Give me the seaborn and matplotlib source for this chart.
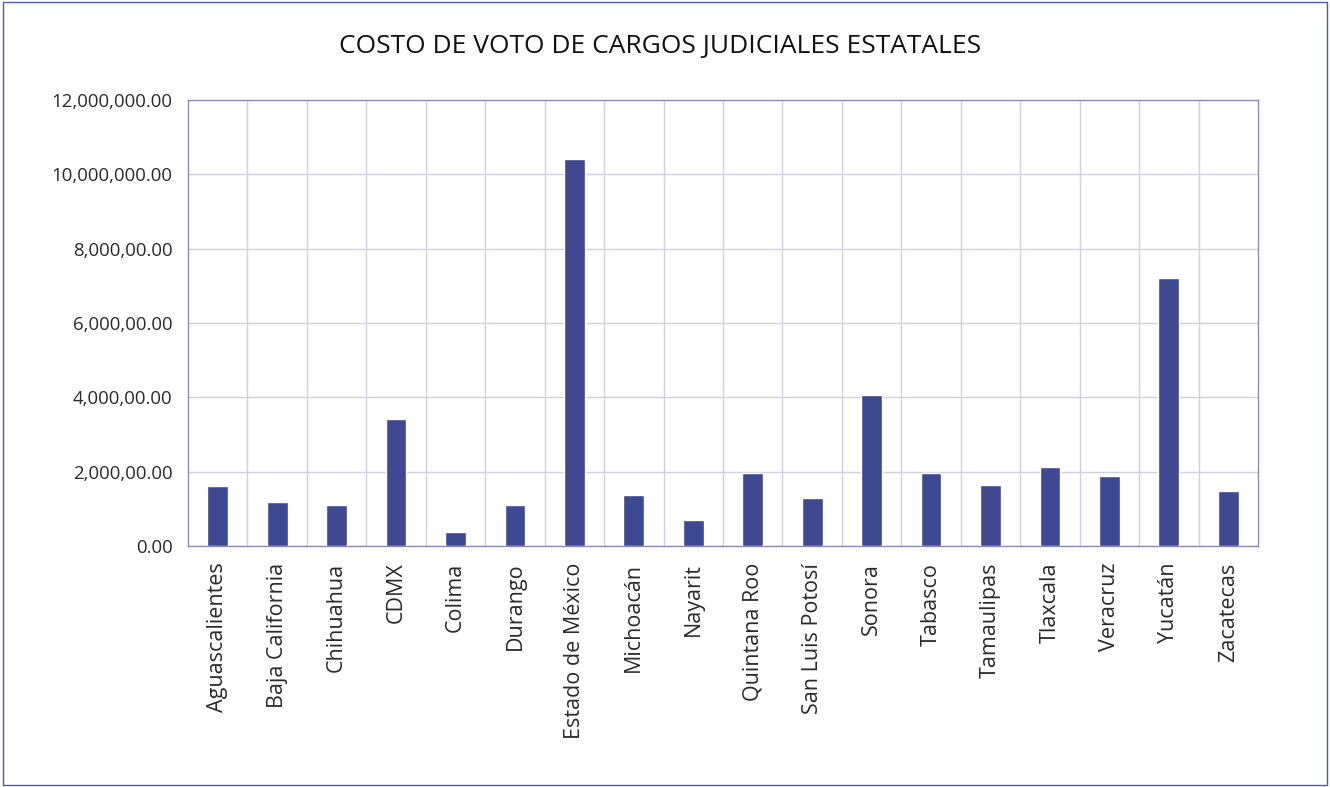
import matplotlib
matplotlib.use("Agg")
import matplotlib.pyplot as plt
import seaborn as sns
import pandas as pd
from matplotlib.patches import Rectangle
from matplotlib.ticker import FixedLocator, FixedFormatter

# Datos
estados = ["Aguascalientes", "Baja California", "Chihuahua", "CDMX", "Colima",
           "Durango", "Estado de México", "Michoacán", "Nayarit", "Quintana Roo",
           "San Luis Potosí", "Sonora", "Tabasco", "Tamaulipas", "Tlaxcala",
           "Veracruz", "Yucatán", "Zacatecas"]
costo = [1620000, 1190000, 1110000, 3420000, 390000,
         1110000, 10420000, 1370000, 690000, 1960000,
         1280000, 4060000, 1960000, 1650000, 2120000,
         1880000, 7200000, 1490000]
y_ticks = [0, 2000000, 4000000, 6000000, 8000000, 10000000, 12000000]
y_labels = ["0.00", "2,000,00.00", "4,000,00.00", "6,000,00.00",
            "8,000,00.00", "10,000,000.00", "12,000,000.00"]

df = pd.DataFrame({"estado": estados, "costo": costo})

sns.set_style("white")
plt.rcParams['font.family'] = ['Open Sans', 'DejaVu Sans']

fig = plt.figure(figsize=(13.3, 7.87), dpi=100)
ax = fig.add_axes([188 / 1330, 1 - 546 / 787, (1258 - 188) / 1330, (546 - 100) / 787])

sns.barplot(data=df, x="estado", y="costo", color="#3d4990", saturation=1,
            width=0.35, ax=ax, zorder=3)

ax.set_ylim(0, 12000000)
ax.set_xlim(-0.5, len(estados) - 0.5)
ax.yaxis.set_major_locator(FixedLocator(y_ticks))
ax.yaxis.set_major_formatter(FixedFormatter(y_labels))
ax.set_xticks(range(len(estados)))
ax.set_xticklabels(estados, rotation=90, fontsize=15.5, color="#2a2a2a")
ax.set_xticks([i + 0.5 for i in range(len(estados) - 1)], minor=True)
ax.tick_params(axis="y", labelsize=13.4, labelcolor="#2a2a2a", length=0, pad=11)
ax.tick_params(axis="x", which="both", length=0, pad=12)

ax.grid(axis="y", which="major", color="#cfd0e2", linewidth=1, zorder=0)
ax.grid(axis="x", which="minor", color="#cfd0e2", linewidth=1, zorder=0)
ax.set_xlabel("")
ax.set_ylabel("")
for s in ax.spines.values():
    s.set_color("#8c8cb4")
    s.set_linewidth(1)

fig.text(0.496, 1 - 46 / 787, "COSTO DE VOTO DE CARGOS JUDICIALES ESTATALES",
         ha="center", va="center", fontsize=19, color="#111111")

# Marco exterior
fig.patches.append(Rectangle((0.002, 0.002), 0.996, 0.995, transform=fig.transFigure,
                             fill=False, edgecolor="#4a5ab8", linewidth=1))

fig.savefig("out.png", dpi=100)
